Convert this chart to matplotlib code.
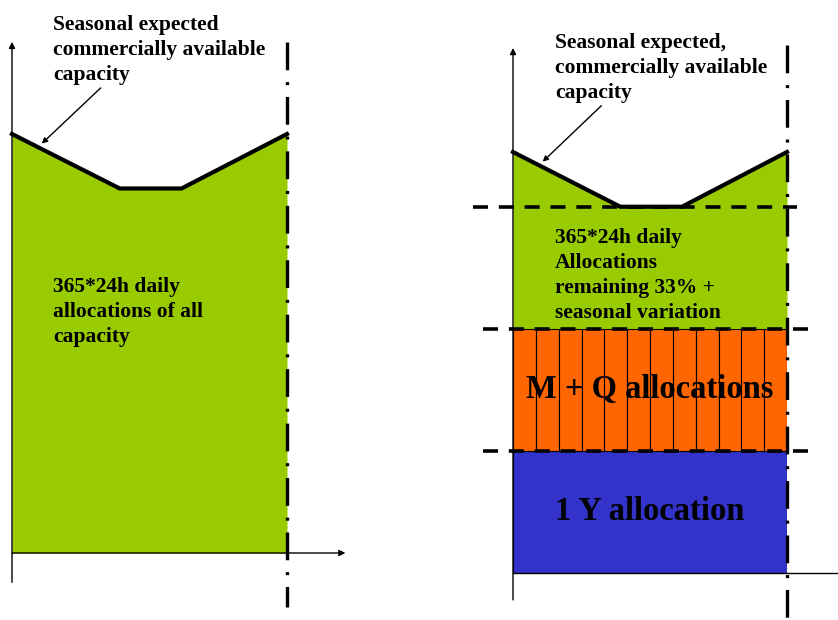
import matplotlib
matplotlib.use("Agg")
import matplotlib.pyplot as plt
from matplotlib.patches import Rectangle

plt.rcParams["font.family"] = ["Liberation Serif", "DejaVu Serif"]
plt.rcParams["font.weight"] = "bold"
plt.rcParams["lines.scale_dashes"] = False

# season profile of commercially available capacity (months, % of peak)
season_months = [0, 4.7, 7.4, 12]
season_capacity = [100, 87, 87, 100]
n_months = 12

# right panel: capacity bands (bottom, top) in % of peak
band_1y = (0, 29)
band_mq = (29, 58)
split_levels = [87, 58, 29]

left_profile_label = "Seasonal expected\ncommercially available\ncapacity"
right_profile_label = "Seasonal expected,\ncommercially available\ncapacity"
left_fill_label = "365*24h daily\nallocations of all\ncapacity"
right_fill_label = "365*24h daily\nAllocations\nremaining 33% +\nseasonal variation"
mq_label = "M + Q allocations"
y1_label = "1 Y allocation"

GREEN = "#99cc00"
ORANGE = "#ff6600"
BLUE = "#3333cc"
DASHDOT = (0, (20, 8.5, 2.2, 8.5))
DASHED = (0, (10.8, 7.8))
SMALL = 15.5
LARGE = 23.5
SPACING = 1.33

W, H = 838, 620
fig = plt.figure(figsize=(W / 100, H / 100), dpi=100)


def panel(x0, x1, y_base, y_top):
    ax = fig.add_axes([x0 / W, (H - y_base) / H, (x1 - x0) / W, (y_base - y_top) / H])
    ax.set_xlim(0, n_months)
    ax.set_ylim(0, 100)
    ax.axis("off")
    return ax


def arrow(ax, tip, tail, size=9):
    ax.annotate("", xy=tip, xytext=tail, annotation_clip=False,
                arrowprops=dict(arrowstyle="-|>", lw=1.0, color="black",
                                mutation_scale=size, shrinkA=0, shrinkB=0))


def axes_lines(ax, y_lo, y_hi, x_hi, dash_lo, dash_hi, arrow_x=True):
    arrow(ax, (0, y_hi), (0, y_lo))
    if arrow_x:
        arrow(ax, (x_hi, 0), (0, 0))
    else:
        ax.plot([0, x_hi], [0, 0], color="black", lw=1.0, clip_on=False)
    ax.plot([n_months, n_months], [dash_hi, dash_lo], color="black", lw=2.4,
            linestyle=DASHDOT, clip_on=False, zorder=5)


def profile(ax, bottom, label, text_xy):
    ax.fill_between(season_months, bottom, season_capacity, color=GREEN, lw=0, zorder=1)
    ax.plot(season_months, season_capacity, color="black", lw=3.0,
            solid_joinstyle="miter", clip_on=False, zorder=4)
    ax.text(*text_xy, label, fontsize=SMALL, ha="left", va="top", linespacing=SPACING)
    arrow(ax, (1.3, 97.7), (3.87, 111), size=8)


# left panel: everything as daily allocations
axl = panel(12, 287, 553, 134)
profile(axl, 0, left_profile_label, (1.79, 128.3))
axl.text(1.79, 65.9, left_fill_label, fontsize=SMALL, ha="left", va="top", linespacing=SPACING)
axes_lines(axl, -7, 122, 14.55, -13, 122)

# right panel: yearly, monthly/quarterly and daily bands
axr = panel(513, 787, 573, 152)
profile(axr, band_mq[1], right_profile_label, (1.84, 128.3))
axr.add_patch(Rectangle((0, band_1y[0]), n_months, band_1y[1] - band_1y[0],
                        facecolor=BLUE, edgecolor="black", lw=0.8, zorder=2))
for m in range(n_months):
    axr.add_patch(Rectangle((m, band_mq[0]), 1, band_mq[1] - band_mq[0],
                            facecolor=ORANGE, edgecolor="black", lw=0.8, zorder=2))
axr.text(1.84, 82, right_fill_label, fontsize=SMALL, ha="left", va="top", linespacing=SPACING)
axr.text(6.0, 43.5, mq_label, fontsize=LARGE, ha="center", va="center", zorder=6)
axr.text(6.0, 14.5, y1_label, fontsize=LARGE, ha="center", va="center", zorder=6)
axr.plot([-1.75, 12.45], [split_levels[0]] * 2, color="black", lw=2.6,
         linestyle=DASHED, clip_on=False, zorder=5)
for lvl in split_levels[1:]:
    axr.plot([-1.3, 12.9], [lvl, lvl], color="black", lw=2.6,
             linestyle=DASHED, clip_on=False, zorder=5)
axes_lines(axr, -6.4, 124.7, 14.3, -11.5, 125.4, arrow_x=False)

fig.savefig("out.png", dpi=100, facecolor="white")
